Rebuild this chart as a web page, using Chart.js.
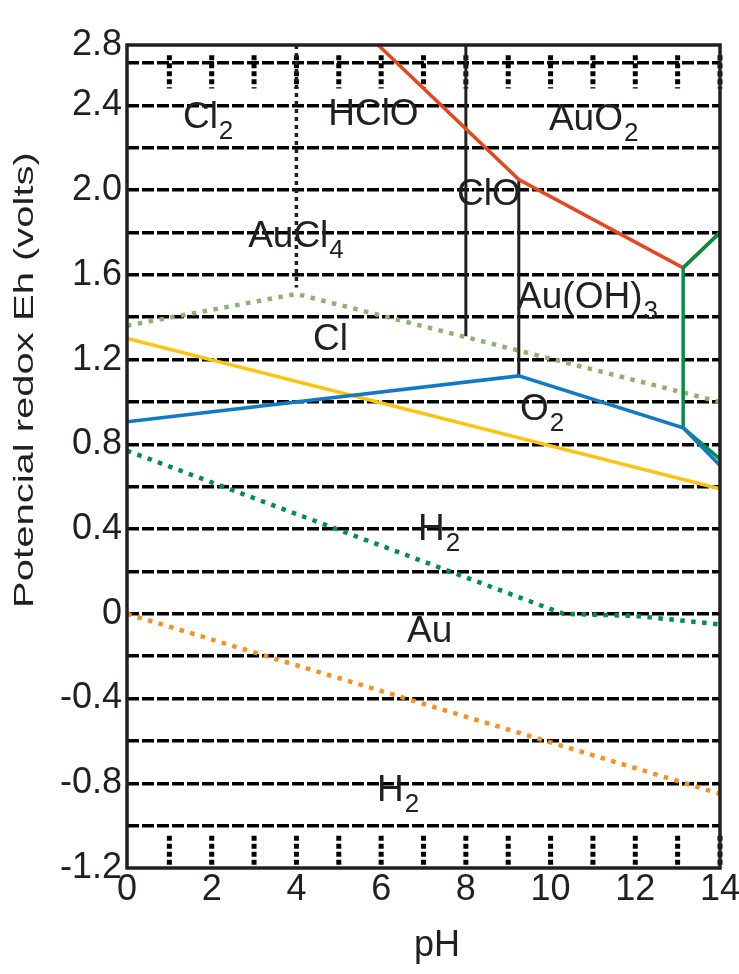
<!DOCTYPE html>
<html>
<head>
<meta charset="utf-8">
<script src="https://cdn.jsdelivr.net/npm/chart.js@4.4.1/dist/chart.umd.min.js"></script>
<style>
  html, body { margin: 0; padding: 0; background: #fff; }
  canvas { display: block; }
</style>
</head>
<body>
<canvas id="mycanvas" width="739" height="974"></canvas>
<script>
// pH axis
var xTicks = [0, 2, 4, 6, 8, 10, 12, 14];
var stubPH = [1, 2, 3, 4, 5, 6, 7, 8, 9, 10, 11, 12, 13, 14];
var stubTopE = [2.637, 2.48];
var stubBottomE = [-1.048, -1.2];

// Eh axis: dashed grid every 0.2, labels every 0.4 (frame top sits a bit under 2.8)
var yTicks = [-1.2, -1.0, -0.8, -0.6, -0.4, -0.2, 0, 0.2, 0.4, 0.6, 0.8, 1.0, 1.2, 1.4, 1.6, 1.8, 2.0, 2.2, 2.4, 2.6, 2.685];
var yLabels = ['-1.2', '', '-0.8', '', '-0.4', '', '0', '', '0.4', '', '0.8', '', '1.2', '', '1.6', '', '2.0', '', '2.4', '', '2.8'];

// boundary lines (pH, Eh)
var redPH = [5.93, 9.25, 13.13, 14];
var redE = [2.685, 2.05, 1.633, 1.80];
var greenPH = [14, 13.13, 13.13, 14];
var greenE = [1.80, 1.633, 0.878, 0.73];
var bluePH = [0, 9.25, 13.13, 14];
var blueE = [0.906, 1.123, 0.878, 0.70];
var yellowPH = [0, 14];
var yellowE = [1.30, 0.59];
var olivePH = [0, 4, 14];
var oliveE = [1.36, 1.51, 1.00];
var h2PH = [0, 10.3, 12, 14];
var h2E = [0.77, 0.0, -0.01, -0.05];
var auPH = [0, 14];
var auE = [0.0, -0.85];
var wall4PH = [4, 4];
var wall4E = [2.685, 1.54];
var wall8PH = [8, 8];
var wall8E = [2.685, 1.31];
var wall9PH = [9.25, 9.25];
var wall9E = [2.05, 1.12];

// species names
var regionLabels = [
	{text: 'Cl', sub: '2', ph: 1.32, e: 2.34},
	{text: 'HClO', sub: '', ph: 4.75, e: 2.355},
	{text: 'AuO', sub: '2', ph: 9.96, e: 2.33},
	{text: 'ClO', sub: '', ph: 7.79, e: 1.977},
	{text: 'AuCl', sub: '4', ph: 2.86, e: 1.78},
	{text: 'Cl', sub: '', ph: 4.39, e: 1.293},
	{text: 'Au(OH)', sub: '3', ph: 9.21, e: 1.49},
	{text: 'O', sub: '2', ph: 9.28, e: 0.963},
	{text: 'H', sub: '2', ph: 6.87, e: 0.396},
	{text: 'Au', sub: '', ph: 6.61, e: -0.085},
	{text: 'H', sub: '2', ph: 5.9, e: -0.835}
];

var INK = '#231f20';
var FONT = '"Liberation Sans", Arial, sans-serif';

function pts(xs, ys) {
	return xs.map(function(x, i){ return {x: x, y: ys[i]}; });
}

function line(xs, ys, color, width, dash) {
	return {
		data: pts(xs, ys),
		showLine: true,
		borderColor: color,
		backgroundColor: color,
		borderWidth: width,
		borderDash: dash || [],
		borderCapStyle: 'butt',
		pointRadius: 0,
		fill: false,
		tension: 0
	};
}

var extras = {
	id: 'extras',
	beforeDatasetsDraw: function(chart) {
		var ctx = chart.ctx, xs = chart.scales.x, ys = chart.scales.y;
		ctx.save();
		ctx.strokeStyle = '#000';
		ctx.lineWidth = 5;
		ctx.setLineDash([5, 3]);
		stubPH.forEach(function(p){
			var px = xs.getPixelForValue(p);
			[stubTopE, stubBottomE].forEach(function(s){
				ctx.beginPath();
				ctx.moveTo(px, ys.getPixelForValue(s[0]));
				ctx.lineTo(px, ys.getPixelForValue(s[1]));
				ctx.stroke();
			});
		});
		ctx.restore();
	},
	afterDatasetsDraw: function(chart) {
		var ctx = chart.ctx, xs = chart.scales.x, ys = chart.scales.y;
		ctx.save();
		ctx.fillStyle = INK;
		ctx.textAlign = 'left';
		ctx.textBaseline = 'middle';
		regionLabels.forEach(function(l){
			var px = xs.getPixelForValue(l.ph), py = ys.getPixelForValue(l.e);
			ctx.font = '37px ' + FONT;
			ctx.fillText(l.text, px, py);
			if (l.sub) {
				var w = ctx.measureText(l.text).width;
				ctx.font = '26px ' + FONT;
				ctx.fillText(l.sub, px + w + 1, py + 14);
			}
		});
		ctx.restore();
	},
	afterDraw: function(chart) {
		var ctx = chart.ctx, a = chart.chartArea;
		ctx.save();
		ctx.strokeStyle = INK;
		ctx.lineWidth = 3.5;
		ctx.strokeRect(a.left, a.top, a.right - a.left, a.bottom - a.top);

		ctx.fillStyle = INK;
		ctx.textAlign = 'center';
		ctx.textBaseline = 'alphabetic';
		ctx.font = '36px ' + FONT;
		ctx.fillText('pH', 437, 956);

		ctx.translate(33, 380);
		ctx.rotate(-Math.PI / 2);
		ctx.scale(1, 0.7);
		ctx.font = '40px ' + FONT;
		ctx.fillText('Potencial redox Eh (volts)', 0, 0);
		ctx.restore();
	}
};

var ctx = document.getElementById('mycanvas');

var chart = new Chart(ctx, {
	type: 'scatter',
	data: {
		datasets: [
			line(bluePH, blueE, '#1279c6', 3.5),
			line(greenPH, greenE, '#00904a', 3.5),
			line(redPH, redE, '#e8461c', 3.5),
			line(yellowPH, yellowE, '#ffc20e', 3.5),
			line(wall8PH, wall8E, INK, 3),
			line(wall9PH, wall9E, INK, 3),
			line(wall4PH, wall4E, INK, 3.5, [4, 4]),
			line(olivePH, oliveE, '#8db46c', 4.5, [4.5, 6.5]),
			line(h2PH, h2E, '#00904a', 4.5, [4.5, 6.5]),
			line(auPH, auE, '#f7901e', 4.5, [4.5, 6.5])
		]
	},
	options: {
		responsive: false,
		animation: false,
		devicePixelRatio: 1,
		layout: { padding: { top: 45, right: 19, bottom: 0, left: 0 } },
		plugins: {
			legend: { display: false },
			tooltip: { enabled: false }
		},
		scales: {
			x: {
				type: 'linear',
				min: 0,
				max: 14,
				afterBuildTicks: function(scale){
					scale.ticks = xTicks.map(function(v){ return {value: v}; });
				},
				afterFit: function(scale){
					scale.height = 106;
					scale.paddingLeft = 0;
					scale.paddingRight = 0;
				},
				grid: { display: false, drawTicks: false },
				border: { display: false },
				ticks: {
					autoSkip: false,
					maxRotation: 0,
					padding: 0,
					color: INK,
					font: { family: FONT, size: 36 }
				}
			},
			y: {
				type: 'linear',
				min: -1.2,
				max: 2.685,
				afterBuildTicks: function(scale){
					scale.ticks = yTicks.map(function(v){ return {value: v}; });
				},
				afterFit: function(scale){
					scale.width = 127;
					scale.paddingTop = 0;
					scale.paddingBottom = 0;
				},
				grid: {
					drawTicks: false,
					lineWidth: 3.5,
					color: function(c){
						var i = c.index;
						return (i === 0 || i === yTicks.length - 1) ? 'rgba(0,0,0,0)' : '#000';
					}
				},
				border: { display: false, dash: [12, 3] },
				ticks: {
					autoSkip: false,
					padding: 5,
					color: INK,
					font: { family: FONT, size: 36 },
					callback: function(value, index){ return yLabels[index]; }
				}
			}
		}
	},
	plugins: [extras]
});
</script>
</body>
</html>
